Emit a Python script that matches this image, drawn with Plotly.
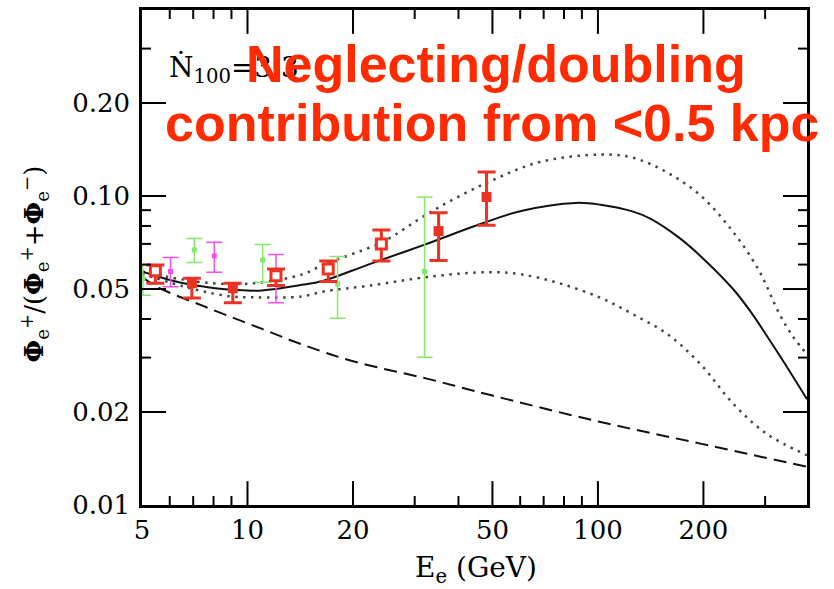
import numpy as np
import plotly.graph_objects as go

# ---- data ----
# model curves (positron fraction vs energy, GeV)
solid_E = [5.0, 6, 7, 9, 11, 14.3, 16.5, 22.1, 31.9, 46.4, 60.4, 86.5, 101.8, 126, 141, 170, 196, 243, 272, 331, 395]
solid_v = [0.057, 0.0535, 0.0515, 0.0497, 0.0495, 0.0516, 0.0532, 0.0600, 0.0695, 0.0813, 0.0895, 0.0950, 0.0937, 0.0890, 0.0845, 0.0735, 0.0640, 0.0500, 0.0424, 0.0303, 0.0220]

upper_E = [5.0, 7, 9, 10.6, 14.3, 16.5, 22.1, 24.4, 34, 48.7, 68.6, 101.8, 126, 158, 196, 243, 289, 330, 362, 395]
upper_v = [0.057, 0.053, 0.0519, 0.0523, 0.0557, 0.0600, 0.0678, 0.0711, 0.090, 0.111, 0.129, 0.1362, 0.133, 0.119, 0.1005, 0.0766, 0.057, 0.0414, 0.0348, 0.0308]

lower_E = [5.0, 7, 9, 10.6, 14.3, 16.5, 22.1, 34, 48.7, 60.4, 78, 101.8, 126, 158, 196, 243, 303, 395]
lower_v = [0.056, 0.050, 0.0473, 0.0470, 0.0473, 0.0491, 0.0512, 0.0550, 0.0567, 0.0558, 0.0521, 0.0468, 0.0414, 0.0357, 0.0286, 0.0213, 0.0170, 0.0145]

dashed_E = [5.0, 5.5, 7.5, 11.1, 14.3, 20, 32.7, 50, 101, 196, 395]
dashed_v = [0.0548, 0.0509, 0.044, 0.037, 0.0331, 0.0292, 0.0256, 0.0226, 0.0186, 0.0158, 0.0133]

# red data (squares)
red_E = [5.46, 6.94, 9.08, 12.06, 17.0, 24.1, 35.1, 48.1]
red_v = [0.0573, 0.0522, 0.0503, 0.0552, 0.0580, 0.0700, 0.0770, 0.0993]
red_hi = [0.0598, 0.0542, 0.0522, 0.0580, 0.0616, 0.0776, 0.0882, 0.1195]
red_lo = [0.0522, 0.0468, 0.0451, 0.0513, 0.0529, 0.0616, 0.0618, 0.0805]
red_open = [True, False, False, True, True, True, False, False]

# green data
green_E = [5.03, 7.05, 11.05, 18.07, 32.0]
green_v = [0.054, 0.0669, 0.0621, 0.0519, 0.0570]
green_hi = [0.0598, 0.0729, 0.0697, 0.0637, 0.0993]
green_lo = [0.0477, 0.0609, 0.0526, 0.0402, 0.0301]

# magenta data
mag_E = [6.03, 8.04, 12.06]
mag_v = [0.0570, 0.0640, 0.0556]
mag_hi = [0.0632, 0.0708, 0.0647]
mag_lo = [0.0509, 0.0567, 0.0451]

x_ticks = [5, 10, 20, 50, 100, 200]
x_ticklabels = ["5", "10", "20", "50", "100", "200"]
x_minor = [6, 7, 8, 9, 30, 40, 60, 70, 80, 90, 300]
y_ticks = [0.01, 0.02, 0.05, 0.1, 0.2]
y_ticklabels = ["0.01", "0.02", "0.05", "0.10", "0.20"]
y_minor = [0.03, 0.04, 0.06, 0.07, 0.08, 0.09, 0.3]
x_range = [5.0, 395]
y_range = [0.01, 0.4]

RED = "#ea3323"
GREEN = "#86e86a"
MAG = "#f050f0"
SERIF = "DejaVu Serif"

fig = go.Figure()

def errs(v, hi, lo):
    v = np.array(v)
    return list(np.array(hi) - v), list(v - np.array(lo))

# curves
fig.add_trace(go.Scatter(x=dashed_E, y=dashed_v, mode="lines", line=dict(color="#111", width=2, dash="13px,7px", shape="spline"), hoverinfo="skip"))
fig.add_trace(go.Scatter(x=lower_E, y=lower_v, mode="lines", line=dict(color="#444", width=2.5, dash="2.5px,5.5px", shape="spline"), hoverinfo="skip"))
fig.add_trace(go.Scatter(x=upper_E, y=upper_v, mode="lines", line=dict(color="#444", width=2.5, dash="2.5px,5.5px", shape="spline"), hoverinfo="skip"))
fig.add_trace(go.Scatter(x=solid_E, y=solid_v, mode="lines", line=dict(color="#111", width=2, shape="spline"), hoverinfo="skip"))

# green
ep, em = errs(green_v, green_hi, green_lo)
fig.add_trace(go.Scatter(x=green_E, y=green_v, mode="markers",
    marker=dict(symbol="square", size=5, color=GREEN),
    error_y=dict(type="data", symmetric=False, array=ep, arrayminus=em, color=GREEN, thickness=1.5, width=8)))
# magenta
ep, em = errs(mag_v, mag_hi, mag_lo)
fig.add_trace(go.Scatter(x=mag_E, y=mag_v, mode="markers",
    marker=dict(symbol="square", size=5, color=MAG),
    error_y=dict(type="data", symmetric=False, array=ep, arrayminus=em, color=MAG, thickness=1.5, width=8)))
# red
ep, em = errs(red_v, red_hi, red_lo)
fig.add_trace(go.Scatter(x=red_E, y=red_v, mode="markers",
    marker=dict(symbol="square", size=10,
                color=["white" if o else RED for o in red_open],
                line=dict(color=RED, width=[3 if o else 0 for o in red_open])),
    error_y=dict(type="data", symmetric=False, array=ep, arrayminus=em, color=RED, thickness=3, width=9)))

L, R, T, B = 142, 27, 7, 84
W, H = 834, 589
pw, ph = W - L - R, H - T - B

def px2paper(px, py):
    return (px - L) / pw, (H - B - py) / ph

xr = [np.log10(x_range[0]), np.log10(x_range[1])]
yr = [np.log10(y_range[0]), np.log10(y_range[1])]

common = dict(type="log", showgrid=False, zeroline=False, showline=True, linecolor="black", linewidth=2.5,
              mirror=True, ticks="", tickmode="array",
              tickfont=dict(family=SERIF, size=26, color="black"))

fig.update_layout(
    width=W, height=H, margin=dict(l=L, r=R, t=T, b=B),
    paper_bgcolor="white", plot_bgcolor="white", showlegend=False,
    xaxis=dict(**common, range=xr, tickvals=x_ticks, ticktext=x_ticklabels),
    yaxis=dict(**common, range=yr, tickvals=y_ticks, ticktext=y_ticklabels, ticklabelstandoff=4),
)

# inward tick marks on all four sides, placed from the tick value arrays
MAJ, MIN = 24, 9
shapes = []
def fx(v):
    return (np.log10(v) - xr[0]) / (xr[1] - xr[0])
def fy(v):
    return (np.log10(v) - yr[0]) / (yr[1] - yr[0])
tick_line = dict(color="black", width=2)
for vals, ln in [(x_ticks, MAJ), (x_minor, MIN)]:
    for v in vals:
        p = fx(v)
        if 0 < p < 1:
            shapes.append(dict(type="line", xref="paper", yref="paper", x0=p, x1=p, y0=0, y1=ln / ph, line=tick_line))
            shapes.append(dict(type="line", xref="paper", yref="paper", x0=p, x1=p, y0=1, y1=1 - ln / ph, line=tick_line))
for vals, ln in [(y_ticks, MAJ), (y_minor, MIN)]:
    for v in vals:
        p = fy(v)
        if 0 < p < 1:
            shapes.append(dict(type="line", xref="paper", yref="paper", y0=p, y1=p, x0=0, x1=ln / pw, line=tick_line))
            shapes.append(dict(type="line", xref="paper", yref="paper", y0=p, y1=p, x0=1, x1=1 - ln / pw, line=tick_line))
fig.update_layout(shapes=shapes)

ann = []
x, y = px2paper(476, 570)
ann.append(dict(text="E<sub>e</sub> (GeV)", x=x, y=y, xref="paper", yref="paper", showarrow=False,
                xanchor="center", yanchor="middle", font=dict(family=SERIF, size=28, color="black")))
x, y = px2paper(34, 262)
ann.append(dict(text="<b>Φ</b><sub>e</sub><sup>+</sup>/(<b>Φ</b><sub>e</sub><sup>+</sup>+<b>Φ</b><sub>e</sub><sup>−</sup>)",
                x=x, y=y, xref="paper", yref="paper", showarrow=False, textangle=-90,
                xanchor="center", yanchor="middle", font=dict(family=SERIF, size=26, color="black")))
x, y = px2paper(167, 66)
ann.append(dict(text="Ṅ<sub>100</sub>=3.3", x=x, y=y, xref="paper", yref="paper", showarrow=False,
                xanchor="left", yanchor="middle", font=dict(family=SERIF, size=28, color="black")))
x, y = px2paper(496, 61)
ann.append(dict(text="<b>Neglecting/doubling</b>", x=x, y=y, xref="paper", yref="paper", showarrow=False,
                xanchor="center", yanchor="middle", font=dict(family="Liberation Sans", size=52, color="#ff2a00")))
x, y = px2paper(492, 121)
ann.append(dict(text="<b>contribution from <0.5 kpc</b>", x=x, y=y, xref="paper", yref="paper", showarrow=False,
                xanchor="center", yanchor="middle", font=dict(family="Liberation Sans", size=52, color="#ff2a00")))
fig.update_layout(annotations=ann)

fig.write_html("out.html")
